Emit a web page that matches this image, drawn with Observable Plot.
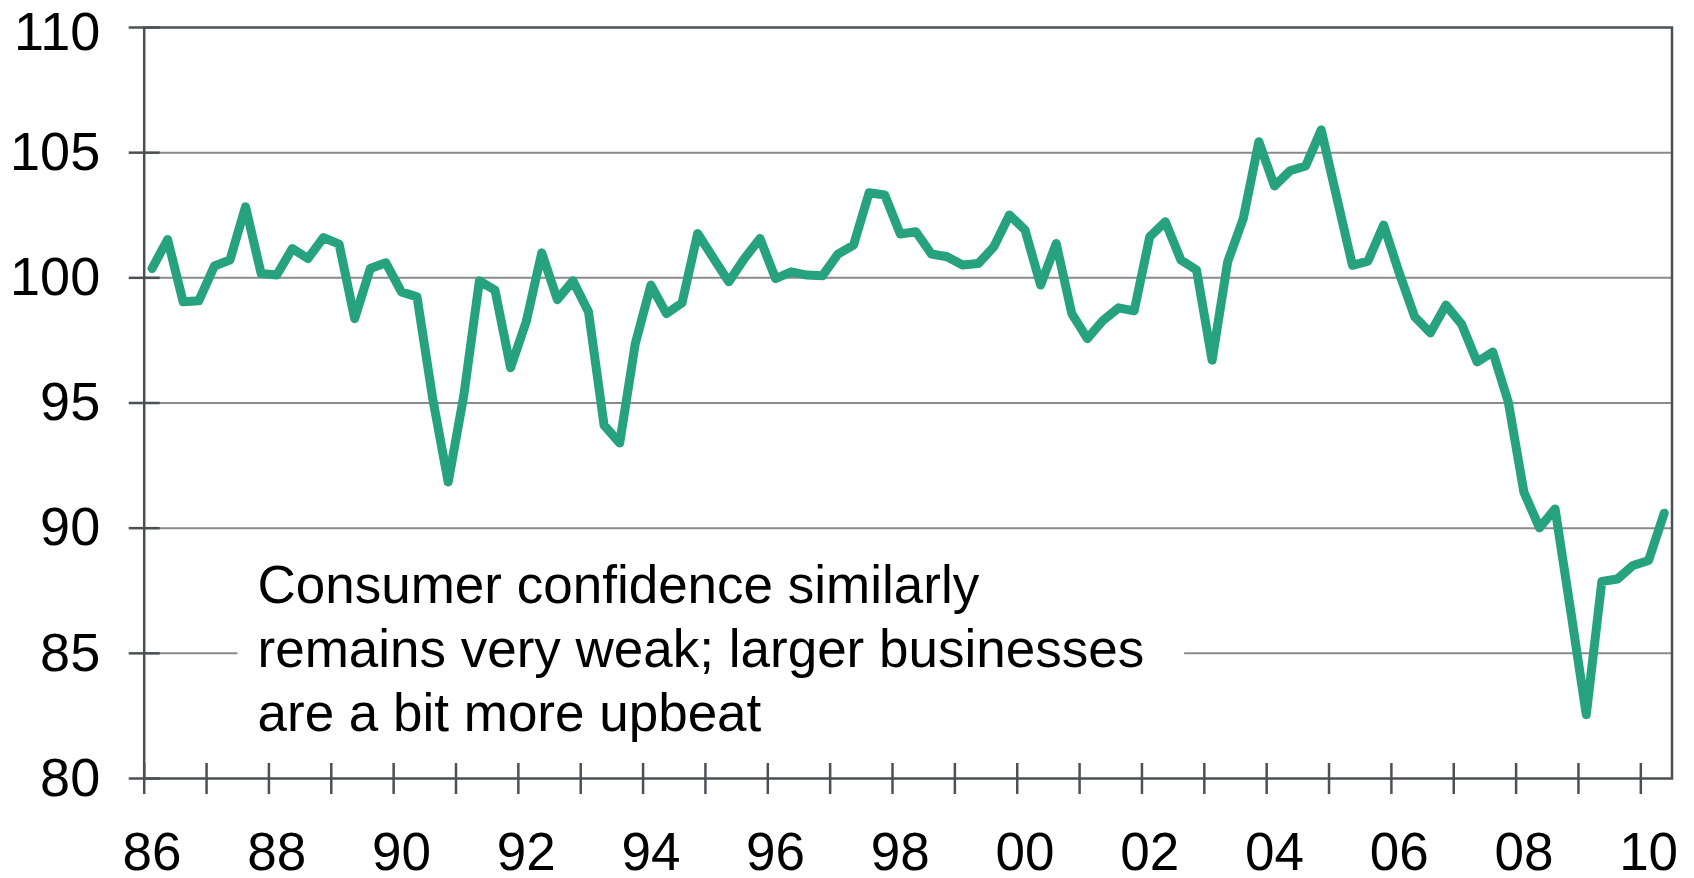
<!DOCTYPE html>
<html>
<head>
<meta charset="utf-8">
<script src="https://cdn.jsdelivr.net/npm/d3@7"></script>
<script src="https://cdn.jsdelivr.net/npm/@observablehq/plot@0.6"></script>
<style>
  html, body { margin: 0; padding: 0; background: #ffffff; }
  #chart svg { display: block; }
</style>
</head>
<body>
<div id="chart"></div>
<script>
// Quarterly index, 1986 Q1 .. 2010 Q2
const startYear = 1986;
const values = [
  100.37, 101.53, 99.04, 99.08, 100.47, 100.71, 102.84, 100.17,
  100.11, 101.17, 100.77, 101.61, 101.35, 98.37, 100.37, 100.6,
  99.44, 99.24, 95.2, 91.84, 95.3, 99.88, 99.51, 96.41,
  98.24, 101.0, 99.13, 99.88, 98.64, 94.11, 93.4, 97.37,
  99.71, 98.57, 99.0, 101.77, 100.8, 99.84, 100.77, 101.57,
  99.97, 100.24, 100.11, 100.08, 100.95, 101.31, 103.4, 103.31,
  101.75, 101.84, 100.95, 100.84, 100.51, 100.57, 101.24, 102.51,
  101.91, 99.71, 101.37, 98.57, 97.57, 98.3, 98.8, 98.68,
  101.64, 102.24, 100.71, 100.31, 96.71, 100.64, 102.37, 105.44,
  103.67, 104.28, 104.47, 105.91, 103.2, 100.5, 100.67, 102.11,
  100.2, 98.44, 97.8, 98.91, 98.15, 96.64, 97.04, 95.04,
  91.44, 90.01, 90.77, 86.7, 82.55, 87.87, 87.97, 88.51,
  88.71, 90.6
];
const yTicks = [80, 85, 90, 95, 100, 105, 110];
const yLabelsLower = [80, 85, 90, 95, 100, 105];
const yLabelTop = [110];
const gridValues = [85, 90, 95, 100, 105];
const tickYears = [1986, 1987, 1988, 1989, 1990, 1991, 1992, 1993, 1994, 1995, 1996, 1997, 1998,
                   1999, 2000, 2001, 2002, 2003, 2004, 2005, 2006, 2007, 2008, 2009, 2010];
const labelYears = [1986, 1988, 1990, 1992, 1994, 1996, 1998, 2000, 2002, 2004, 2006, 2008, 2010];
const xTickLabels = ["86", "88", "90", "92", "94", "96", "98", "00", "02", "04", "06", "08", "10"];
const note = "Consumer confidence similarly\nremains very weak; larger businesses\nare a bit more upbeat";

const data = values.map((v, i) => ({t: startYear + (i + 0.5) / 4, v}));
const labelPos = labelYears.map(y => y + 0.125);
const labelMap = new Map(labelPos.map((p, i) => [p, xTickLabels[i]]));

const axisColor = "#4b5055";
const yLabelOpts = {tickSize: 0, tickPadding: 44, fontSize: 54, fill: "#000", label: null, tickFormat: d => String(d)};
const chart = Plot.plot({
  width: 1694,
  height: 878,
  marginLeft: 143.7,
  marginRight: 22.5,
  marginTop: 27,
  marginBottom: 100,
  style: {fontFamily: "'Liberation Sans', Arial, Helvetica, sans-serif", background: "#ffffff", color: "#000", overflow: "visible"},
  x: {domain: [1986, 2010.5], label: null},
  y: {domain: [80, 110], label: null},
  marks: [
    Plot.ruleY(gridValues, {stroke: "#8a8a8a", strokeWidth: 2}),
    Plot.text([note], {
      frameAnchor: "bottom-left", lineAnchor: "bottom", textAnchor: "start",
      dx: 113.3, dy: -48, fontSize: 53, lineHeight: 1.2, fill: "#000000",
      ariaLabel: "annotation"
    }),
    Plot.frame({stroke: axisColor, strokeWidth: 2.5}),
    Plot.axisY(yTicks, {tickSize: 31, dx: 16, fill: "none", stroke: axisColor, strokeWidth: 2.5, label: null}),
    Plot.axisY(yLabelsLower, yLabelOpts),
    Plot.axisY(yLabelTop, {...yLabelOpts, dy: 5}),
    Plot.axisX(tickYears, {tickSize: 31, dy: -15, fill: "none", stroke: axisColor, strokeWidth: 2.5, label: null}),
    Plot.axisX(labelPos, {tickSize: 0, tickPadding: 54, fontSize: 53, fill: "#000", label: null, tickFormat: d => labelMap.get(d)}),
    Plot.lineY(data, {x: "t", y: "v", stroke: "#27a27f", strokeWidth: 9, strokeLinejoin: "round", strokeLinecap: "round"})
  ]
});
document.getElementById("chart").appendChild(chart);

// white box behind the annotation, sized from the text's own bounding box
try {
  const noteText = Array.from(chart.querySelectorAll("text")).find(t => t.textContent.indexOf("Consumer") >= 0);
  if (noteText) {
    const host = noteText.parentNode;
    const bb = noteText.getBBox();
    const rect = document.createElementNS("http://www.w3.org/2000/svg", "rect");
    rect.setAttribute("x", bb.x - 20);
    rect.setAttribute("y", bb.y - 4);
    rect.setAttribute("width", bb.width + 20 + 40);
    rect.setAttribute("height", bb.height + 4);
    rect.setAttribute("fill", "#ffffff");
    rect.setAttribute("stroke", "none");
    const tr = noteText.getAttribute("transform");
    if (tr) rect.setAttribute("transform", tr);
    host.insertBefore(rect, noteText);
  }
} catch (e) { console.error(e); }
</script>
</body>
</html>
